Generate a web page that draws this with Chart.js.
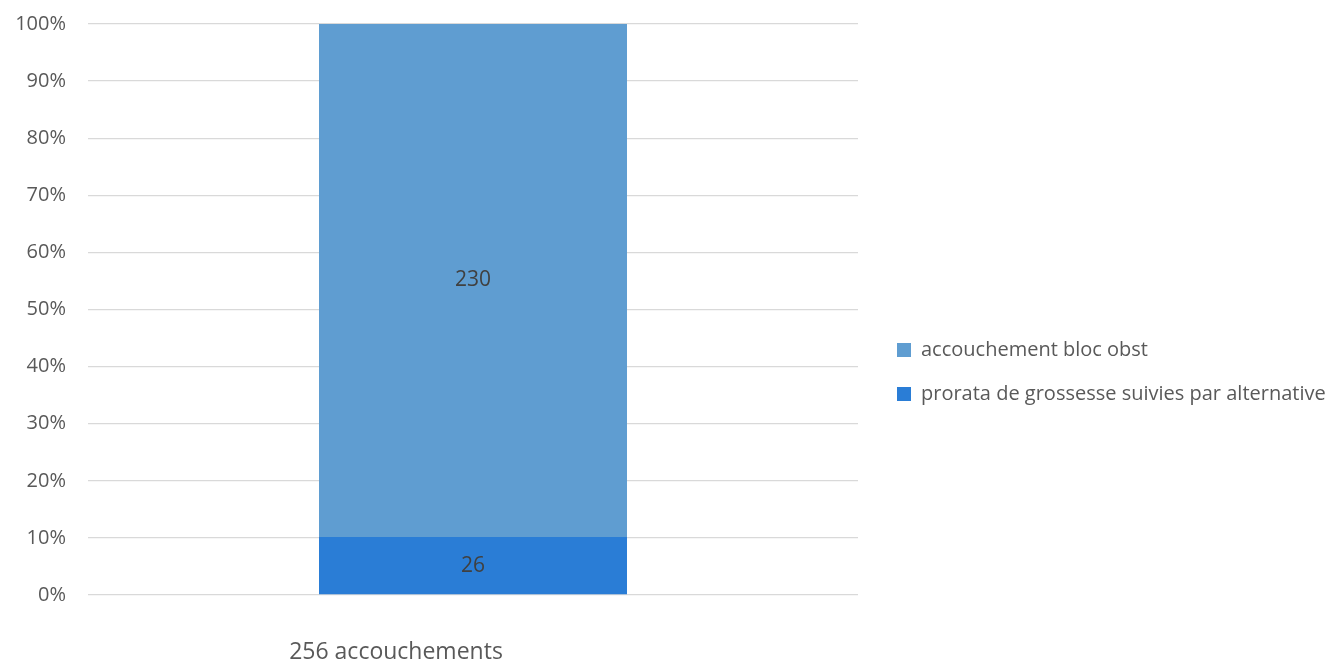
<!DOCTYPE html>
<html>
<head>
<meta charset="utf-8">
<script src="https://cdn.jsdelivr.net/npm/chart.js@4/dist/chart.umd.min.js"></script>
<style>
  html, body { margin: 0; padding: 0; background: #fff; }
  #wrap { width: 1342px; height: 664px; }
</style>
</head>
<body>
<div id="wrap"><canvas id="grafica"></canvas></div>
<script>
// Données
const categories = ["256 accouchements"];
const serieNoms = ["prorata de grossesse suivies par alternative", "accouchement bloc obst"];
const valeursAlternative = [26];
const valeursBloc = [230];
const couleurs = ["#2A7DD6", "#5F9DD1"];
const ticksY = [0, 10, 20, 30, 40, 50, 60, 70, 80, 90, 100];

// Pourcentage empilé (100 %)
const totaux = categories.map((c, i) => valeursAlternative[i] + valeursBloc[i]);
const pct = arr => arr.map((v, i) => v / totaux[i] * 100);

const police = "'Open Sans', Lato, sans-serif";

// Étiquettes de valeurs au centre des segments
const etiquettes = {
    id: "etiquettes",
    afterDatasetsDraw(chart) {
        const ctx = chart.ctx;
        ctx.save();
        ctx.font = "21px " + police;
        ctx.fillStyle = "#404040";
        ctx.textAlign = "center";
        ctx.textBaseline = "middle";
        chart.data.datasets.forEach((ds, di) => {
            chart.getDatasetMeta(di).data.forEach((bar, i) => {
                const p = bar.getProps(["x", "y", "base"], true);
                ctx.fillText(String(ds.brut[i]), p.x, (p.y + p.base) / 2);
            });
        });
        ctx.restore();
    }
};

// Légende : largeur fixe et décalage
const legendeFixe = {
    id: "legendeFixe",
    afterInit(chart) {
        const lg = chart.legend;
        const fitOrig = lg.fit.bind(lg);
        lg.fit = function () {
            fitOrig();
            this.width = 484;
        };
    },
    afterLayout(chart) {
        chart.legend.left += 15;
        chart.legend.top += 28;
        chart.legend.bottom += 28;
    }
};

new Chart(document.getElementById("grafica"), {
    type: "bar",
    data: {
        labels: categories,
        datasets: [
            {
                label: serieNoms[0],
                data: pct(valeursAlternative),
                brut: valeursAlternative,
                backgroundColor: couleurs[0]
            },
            {
                label: serieNoms[1],
                data: pct(valeursBloc),
                brut: valeursBloc,
                backgroundColor: couleurs[1]
            }
        ]
    },
    options: {
        responsive: true,
        maintainAspectRatio: false,
        animation: false,
        devicePixelRatio: 1,
        layout: { padding: { top: 24, left: 0, right: 0, bottom: 0 } },
        datasets: { bar: { categoryPercentage: 1, barPercentage: 0.4 } },
        plugins: {
            tooltip: { enabled: false },
            legend: {
                position: "right",
                reverse: true,
                labels: {
                    color: "#595959",
                    font: { family: police, size: 20 },
                    boxWidth: 14,
                    boxHeight: 14,
                    padding: 24
                }
            }
        },
        scales: {
            x: {
                stacked: true,
                grid: { display: false },
                border: { display: false },
                ticks: {
                    color: "#595959",
                    font: { family: police, size: 23 },
                    padding: 36,
                    labelOffset: -77
                },
                afterFit: s => { s.height = 69; }
            },
            y: {
                stacked: true,
                min: 0,
                max: 100,
                afterBuildTicks: s => { s.ticks = ticksY.map(v => ({ value: v })); },
                grid: { color: "#D9D9D9", lineWidth: 1.3, drawTicks: false },
                border: { display: false },
                ticks: {
                    color: "#595959",
                    font: { family: police, size: 20 },
                    padding: 22,
                    callback: v => v + "%"
                },
                afterFit: s => {
                    s.width = 88;
                    s.paddingTop = 0;
                    s.paddingBottom = 0;
                }
            }
        }
    },
    plugins: [etiquettes, legendeFixe]
});
</script>
</body>
</html>
